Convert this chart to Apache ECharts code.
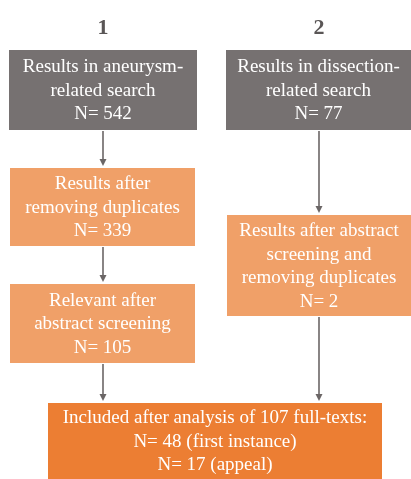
<!DOCTYPE html>
<html>
<head>
<meta charset="utf-8">
<style>
  html, body { margin: 0; padding: 0; background: #fff; }
  #main { width: 411px; height: 479px; }
</style>
<script src="https://cdn.jsdelivr.net/npm/echarts@6/dist/echarts.min.js"></script>
</head>
<body>
<div id="main"></div>
<script>
// column headers
var headers = ['1', '2'];

// box texts (first lines) and counts
var boxLabels = [
  'Results in aneurysm-\nrelated search',
  'Results in dissection-\nrelated search',
  'Results after\nremoving duplicates',
  'Relevant after\nabstract screening',
  'Results after abstract\nscreening and\nremoving duplicates',
  'Included after analysis of 107 full-texts:'
];
var boxCounts = ['N= 542', 'N= 77', 'N= 339', 'N= 105', 'N= 2', 'N= 48 (first instance)\nN= 17 (appeal)'];
var boxKind = ['search', 'search', 'step', 'step', 'step', 'final'];

// arrows: from box -> to box
var links = [[0, 2], [2, 3], [1, 4], [3, 5], [4, 5]];

// layout
var colX = [103, 319];
var boxRects = [
  [9, 50, 188, 80],
  [226, 50, 185, 80],
  [10, 168, 185, 78],
  [10, 284, 185, 79],
  [227, 215, 184, 101],
  [48, 403, 334, 76]
];
var fills = { search: '#767171', step: '#F0A068', final: '#EC7E33' };
var arrowColor = '#6b6666';

var myChart = echarts.init(document.getElementById('main'));

var elements = [];

headers.forEach(function (h, i) {
  elements.push({
    type: 'text',
    x: colX[i], y: 28,
    style: {
      text: h, fill: '#5a5656',
      font: 'bold 22px "Liberation Serif"',
      align: 'center', verticalAlign: 'middle'
    }
  });
});

boxRects.forEach(function (r, i) {
  elements.push({
    type: 'rect',
    shape: { x: r[0], y: r[1], width: r[2], height: r[3] },
    style: { fill: fills[boxKind[i]] }
  });
  elements.push({
    type: 'text',
    x: r[0] + r[2] / 2, y: r[1] + r[3] / 2 + 1,
    style: {
      text: boxLabels[i] + '\n' + boxCounts[i],
      fill: '#fff',
      font: '19px "Liberation Serif"',
      lineHeight: 23.5,
      align: 'center', verticalAlign: 'middle'
    }
  });
});

links.forEach(function (l) {
  var a = boxRects[l[0]], b = boxRects[l[1]];
  var x = l[0] === 1 || l[0] === 4 ? colX[1] : colX[0];
  var y1 = a[1] + a[3] + 1, y2 = b[1] - 2;
  elements.push({
    type: 'line',
    shape: { x1: x, y1: y1, x2: x, y2: y2 - 5 },
    style: { stroke: arrowColor, lineWidth: 1.6 }
  });
  elements.push({
    type: 'polygon',
    shape: { points: [[x - 3.5, y2 - 7], [x + 3.5, y2 - 7], [x, y2]] },
    style: { fill: arrowColor }
  });
});

var option = {
  backgroundColor: '#ffffff',
  animation: false,
  graphic: { elements: elements }
};

myChart.setOption(option);
</script>
</body>
</html>
